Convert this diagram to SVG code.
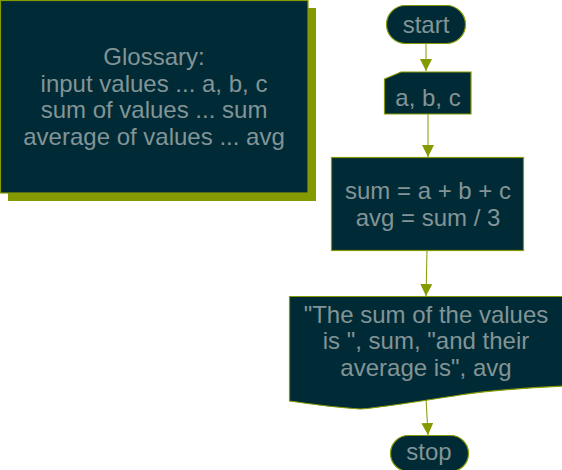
<svg xmlns="http://www.w3.org/2000/svg" width="562" height="470" viewBox="0 0 562 470">
<defs>
<style>
.n{fill:#002b36;stroke:#859900;stroke-width:1.2}
.t{font-family:"Liberation Sans",Arial,sans-serif;font-size:24px;fill:#839496;text-anchor:middle}
.c{stroke:#859900;stroke-width:1;fill:none}
</style>
<marker id="a" viewBox="0 0 10 10" refX="10" refY="5" markerWidth="12" markerHeight="12" markerUnits="userSpaceOnUse" orient="auto">
<path d="M0,0 L10,5 L0,10 Z" fill="#859900"/>
</marker>
</defs>
<g id="glossary">
<rect x="8" y="8" width="308" height="193" fill="#859900"/>
<rect x="0.5" y="0.5" width="307.5" height="192.5" class="n"/>
<text class="t" x="154" y="65">Glossary:</text>
<text class="t" x="154" y="91.7">input values ... a, b, c</text>
<text class="t" x="154" y="118.3">sum of values ... sum</text>
<text class="t" x="154" y="145">average of values ... avg</text>
</g>
<g id="connectors">
<line class="c" x1="426" y1="44" x2="426" y2="71" marker-end="url(#a)"/>
<line class="c" x1="428" y1="114" x2="428" y2="157" marker-end="url(#a)"/>
<line class="c" x1="427" y1="251" x2="426" y2="296" marker-end="url(#a)"/>
<line class="c" x1="426" y1="398" x2="428" y2="435" marker-end="url(#a)"/>
</g>
<g id="start">
<rect x="386.5" y="5.5" width="79" height="38" rx="19" class="n"/>
<text class="t" x="426" y="33">start</text>
</g>
<g id="input">
<path d="M384.5,79 L401,72 L471,72 L471,114 L384.5,114 Z" class="n"/>
<text class="t" x="428" y="105.5">a, b, c</text>
</g>
<g id="process">
<rect x="331.5" y="157.5" width="192" height="93" class="n"/>
<text class="t" x="428" y="199">sum = a + b + c</text>
<text class="t" x="428" y="225.5">avg = sum / 3</text>
</g>
<g id="output">
<path d="M289.5,296.5 L566,296.5 L566,386 C520,388 480,392 460,395 C420,401 380,408 360,409 C330,407 310,404 289.5,401 Z" class="n"/>
<text class="t" x="426" y="322.7">"The sum of the values</text>
<text class="t" x="426" y="349.3">is ", sum, "and their</text>
<text class="t" x="426" y="376">average is", avg</text>
</g>
<g id="stop">
<rect x="390.5" y="435.5" width="78" height="36" rx="18" class="n"/>
<text class="t" x="429" y="460">stop</text>
</g>
</svg>
